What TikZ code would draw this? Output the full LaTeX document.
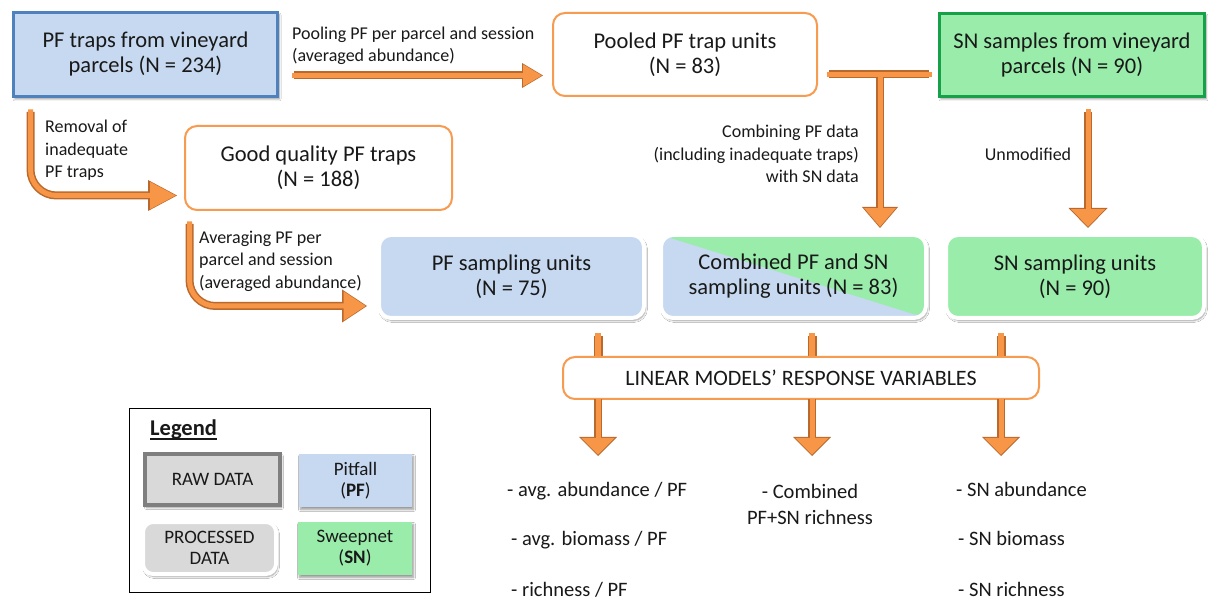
\documentclass[tikz,border=0pt]{standalone}
\usepackage{fontspec}
\setmainfont{Carlito}
\usetikzlibrary{arrows.meta,calc,shadows.blur}
\definecolor{pfblue}{RGB}{198,217,240}
\definecolor{pfborder}{RGB}{79,129,189}
\definecolor{sngreen}{RGB}{153,236,170}
\definecolor{snborder}{RGB}{22,160,72}
\definecolor{aorange}{RGB}{247,150,70}
\definecolor{aedge}{RGB}{185,105,45}
\definecolor{boxorange}{RGB}{247,155,80}
\definecolor{rawgray}{RGB}{217,217,217}
\definecolor{rawborder}{RGB}{127,127,127}
\definecolor{txt}{RGB}{25,25,25}
\tikzset{
  mainfont/.style={font=\fontsize{22.5}{25}\selectfont, text=txt},
  lblfont/.style={font=\fontsize{18}{22.5}\selectfont, text=txt, inner sep=0pt},
  outfont/.style={font=\fontsize{20.5}{26}\selectfont, text=txt, inner sep=0pt},
  legfont/.style={font=\fontsize{19}{21}\selectfont, text=txt, align=center, inner sep=0pt},
  shad/.style={blur shadow={shadow xshift=1.5pt, shadow yshift=-2.5pt, shadow blur radius=2pt, shadow blur steps=6, shadow opacity=40}},
  rawbox/.style={mainfont, align=center, rectangle, line width=3pt, shad},
  procbox/.style={mainfont, align=center, rectangle, rounded corners=12pt, draw=white, line width=4pt, shad},
  stepbox/.style={mainfont, align=center, rectangle, rounded corners=12pt, draw=boxorange, line width=2pt, fill=white},
  farrow/.style 2 args={draw=aorange, line width=5pt, line cap=rect, shorten >=1.3pt,
     -{Triangle[width=#1, length=#2, scale=0.88, line width=0pt]},
     preaction={draw=aedge, line width=8pt, shorten >=0pt, -{Triangle[width=#1, length=#2, line width=0pt]}}},
  barconn/.style={draw=aorange, line width=6pt, line cap=rect,
     preaction={draw=aedge, line width=9pt}}
}
\begin{document}
\begin{tikzpicture}[x=1pt,y=-1pt]
\fill[white] (0,0) rectangle (1208,601);
\useasboundingbox (0,0) rectangle (1208,601);

% main boxes
\node[rawbox, fill=pfblue, draw=pfborder, minimum width=264pt, minimum height=84pt] (A) at (145.5,54.5) {PF traps from vineyard\\parcels (N = 234)};
\node[stepbox, minimum width=264pt, minimum height=83pt] (B) at (685,54.5) {Pooled PF trap units\\(N = 83)};
\node[rawbox, fill=sngreen, draw=snborder, minimum width=265pt, minimum height=83pt] (C) at (1072,55) {SN samples from vineyard\\parcels (N = 90)};
\node[stepbox, minimum width=267pt, minimum height=84pt] (D) at (318.5,168) {Good quality PF traps\\(N = 188)};
\node[procbox, fill=pfblue, minimum width=265pt, minimum height=83pt] (E) at (511.5,276.5) {PF sampling units\\(N = 75)};
\node[procbox, fill=pfblue, minimum width=265pt, minimum height=83pt,
  path picture={\fill[sngreen] (path picture bounding box.north west) -- (path picture bounding box.north east) -- (path picture bounding box.south east) -- cycle;}] (F) at (793.5,276.5) {Combined PF and SN\\sampling units (N = 83)};
\node[procbox, fill=sngreen, minimum width=258pt, minimum height=83pt] (G) at (1075,276.5) {SN sampling units\\(N = 90)};

% connectors from the sampling units down to the response-variable box
\coordinate (k1) at ($(E.south)+(86.5,16)$);
\coordinate (k2) at ($(F.south)+(18.5,16)$);
\coordinate (k3) at ($(G.south)+(-74,16)$);
\coordinate (h1) at ($(k1)+(0,30)$);
\coordinate (h2) at ($(k2)+(0,30)$);
\coordinate (h3) at ($(k3)+(0,30)$);
\draw[barconn] (k1) -- (h1);
\draw[barconn] (k2) -- (h2);
\draw[barconn] (k3) -- (h3);

\node[stepbox, font=\fontsize{22}{25}\selectfont, minimum width=476pt, minimum height=42pt] (H) at (801,378) {LINEAR MODELS’ RESPONSE VARIABLES};

% labels
\node[lblfont, align=left, anchor=west] (lpool) at (292,46) {Pooling PF per parcel and session\\(averaged abundance)};
\node[lblfont, align=left, anchor=west] (lrem) at (45,150.5) {Removal of\\inadequate\\PF traps};
\node[lblfont, align=left, anchor=west] (lavg) at (199,261) {Averaging PF per\\parcel and session\\(averaged abundance)};
\node[lblfont, align=right, anchor=east] (lcomb) at (859,154) {Combining PF data\\(including inadequate traps)\\with SN data};
\node[lblfont] (lunm) at (1028,154) {Unmodified};

% arrows
\draw[farrow={25pt}{21pt}] ($(A.east)+(15,21)$) -- ($(B.west)+(-9,21)$);
\draw[farrow={31pt}{29pt}, rounded corners=26pt] ($(A.south west)+(18.5,14)$) |- ($(D.west)+(-7,27.5)$);
\draw[farrow={33pt}{25pt}, rounded corners=26pt] ($(D.south west)+(5.5,13)$) |- ($(E.west)+(-10,29.5)$);
\coordinate (t1) at ($(B.east)+(11,20)$);
\coordinate (t2) at ($(C.west)+(-9,19.5)$);
\coordinate (tj) at (880,76);
\draw[farrow={36pt}{21pt}] (t1) -- (t2) (tj) -- ($(F.north)+(86.5,-5)$);
\draw[farrow={39pt}{20pt}] ($(C.south)+(16,14)$) -- ($(G.north)+(13,-5)$);

\draw[farrow={38pt}{19pt}, line cap=butt] ($(k1 |- H.south)+(0,-0.5)$) -- ($(k1 |- H.south)+(0,56)$);
\draw[farrow={38pt}{19pt}, line cap=butt] ($(k2 |- H.south)+(0,-0.5)$) -- ($(k2 |- H.south)+(0,56)$);
\draw[farrow={38pt}{19pt}, line cap=butt] ($(k3 |- H.south)+(0,-0.5)$) -- ($(k3 |- H.south)+(0,56)$);

% outputs
\node[outfont, anchor=west] (o1) at (507,491) {- avg. abundance / PF};
\node[outfont, anchor=west] (o2) at (511,540) {- avg. biomass / PF};
\node[outfont, anchor=west] (o3) at (511,590) {- richness / PF};
\node[outfont, align=center] (o4) at (810,504) {- Combined\\PF+SN richness};
\node[outfont, anchor=west] (o5) at (956,489) {- SN abundance};
\node[outfont, anchor=west] (o6) at (958,538) {- SN biomass};
\node[outfont, anchor=west] (o7) at (958,589) {- SN richness};

% legend
\node[draw=black, line width=1.2pt, minimum width=300.8pt, minimum height=183.8pt, inner sep=0pt] (L) at (280,500.5) {};
\node[font=\bfseries\fontsize{22.5}{25}\selectfont, text=txt, inner sep=0pt, anchor=base west] (Lt) at (150,436) {Legend};
\draw[txt, line width=1.3pt] ($(Lt.base west)+(0,3)$) -- ($(Lt.base east)+(0,3)$);
\node[legfont, fill=rawgray, draw=rawborder, line width=4pt, minimum width=135pt, minimum height=51pt, shad] (Lraw) at (212.5,479.5) {RAW DATA};
\node[legfont, fill=pfblue, minimum width=113pt, minimum height=53pt, shad] (Lpf) at (355.5,480.5) {Pitfall\\(\textbf{PF})};
\node[legfont, fill=rawgray, draw=white, line width=4pt, rounded corners=10pt, minimum width=133pt, minimum height=52pt, shad] (Lproc) at (209.5,548) {PROCESSED\\DATA};
\node[legfont, fill=sngreen, minimum width=114pt, minimum height=53pt, shad] (Lsn) at (355,548.5) {Sweepnet\\(\textbf{SN})};
\end{tikzpicture}
\end{document}
